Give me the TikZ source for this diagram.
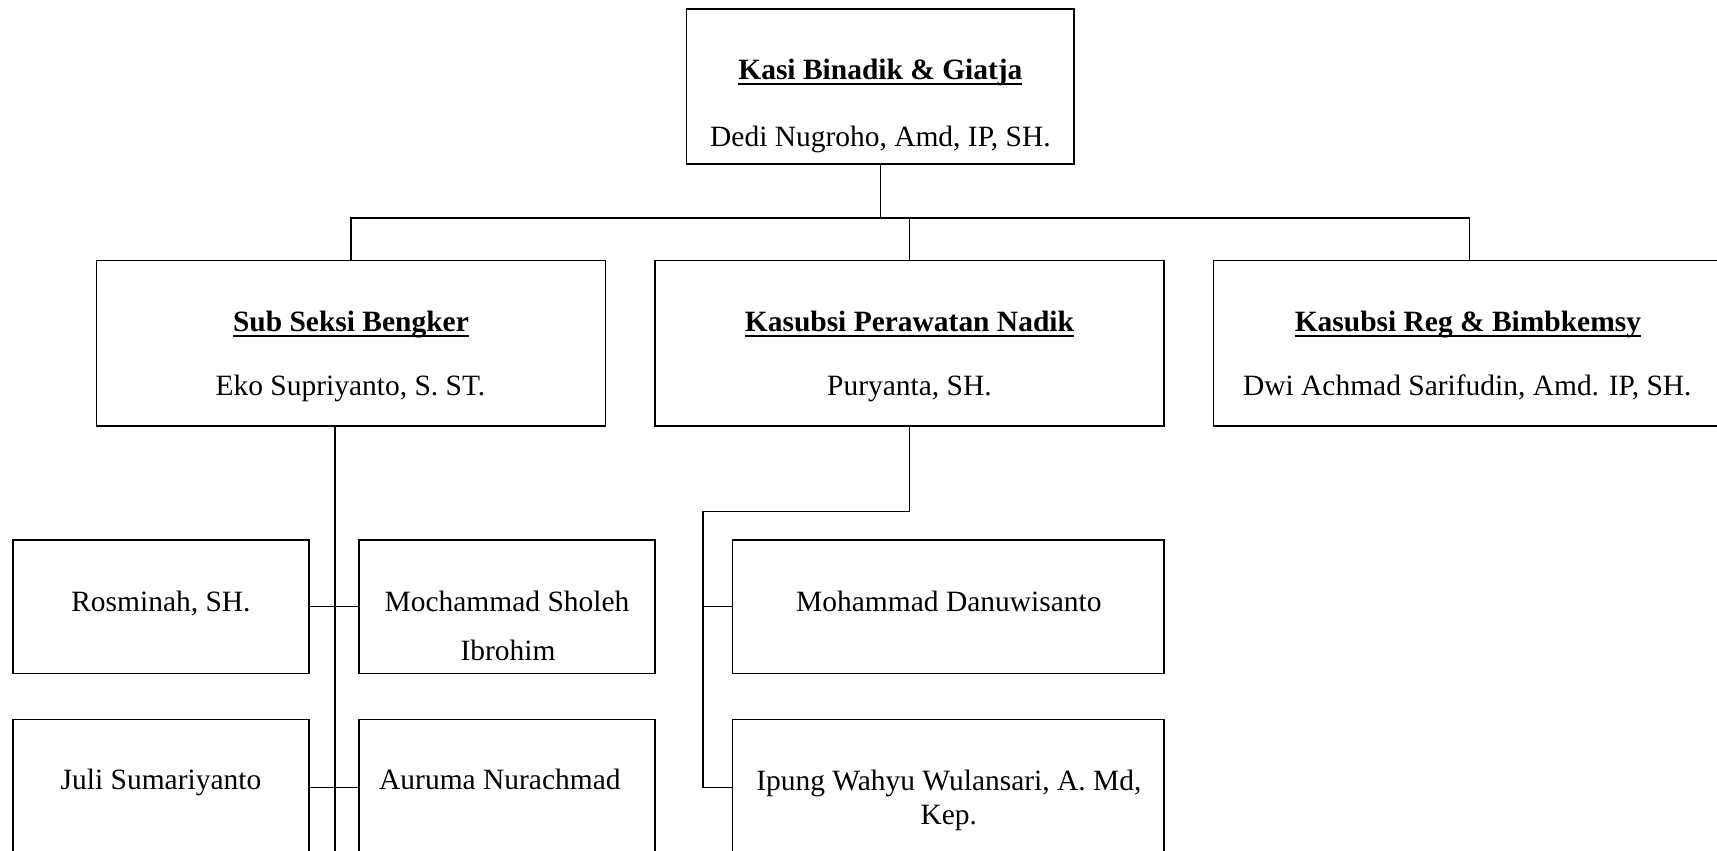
\documentclass[tikz,border=0pt]{standalone}
\usepackage{fontspec}
\setmainfont{Liberation Serif}
\newcommand\myul[1]{\setbox0\hbox{#1}\rlap{\rule[-2.6pt]{\wd0}{0.9pt}}\box0}
\begin{document}
\begin{tikzpicture}[x=0.55pt,y=-0.55pt,
  box/.style={draw, line width=0.8pt, rectangle, inner sep=0pt},
  sz/.style 2 args={minimum width={#1*0.55pt}, minimum height={#2*0.55pt}},
  lbl/.style={inner sep=0pt, anchor=base, font=\fontsize{14.8}{17}\selectfont},
  conn/.style={line width=0.75pt}]
\useasboundingbox (0,0) rectangle (1568,777);
\clip (0,0) rectangle (1568,777);
% boxes
\node[box, sz={354}{142}] (top) at (804,79) {};
\node[box, sz={465}{151}] (beng) at (320.5,313.5) {};
\node[box, sz={465}{151}] (pera) at (830.5,313.5) {};
\node[box, sz={468}{151}] (reg) at (1342,313.5) {};
\node[box, sz={270}{122}] (ros) at (147,554) {};
\node[box, sz={270}{122}] (sho) at (463,554) {};
\node[box, sz={270}{123}] (juli) at (147,718.5) {};
\node[box, sz={270}{123}] (aur) at (463,718.5) {};
\node[box, sz={394}{122}] (danu) at (866,554) {};
\node[box, sz={394}{123}] (ipu) at (866,718.5) {};
% texts
\node[lbl] (top-h) at (804,73) {\myul{\textbf{Kasi Binadik \& Giatja}}};
\node[lbl] (top-n) at (804,134) {Dedi Nugroho, Amd, IP, SH.};
\node[lbl] (beng-h) at (320.5,303) {\myul{\textbf{Sub Seksi Bengker}}};
\node[lbl] (beng-n) at (320,361.5) {Eko Supriyanto, S. ST.};
\node[lbl] (pera-h) at (830.5,303) {\myul{\textbf{Kasubsi Perawatan Nadik}}};
\node[lbl] (pera-n) at (830.5,361.5) {Puryanta, SH.};
\node[lbl] (reg-h) at (1340.5,303) {\myul{\textbf{Kasubsi Reg \& Bimbkemsy}}};
\node[lbl] (reg-n) at (1340,361.5) {Dwi Achmad Sarifudin, Amd. IP, SH.};
\node[lbl] (ros-t) at (147,558) {Rosminah, SH.};
\node[lbl] (sho-t1) at (463,558) {Mochammad Sholeh};
\node[lbl] (sho-t2) at (464,603) {Ibrohim};
\node[lbl] (juli-t) at (147,721) {Juli Sumariyanto};
\node[lbl] (aur-t) at (456.5,721) {Auruma Nurachmad};
\node[lbl] (danu-t) at (866.5,558) {Mohammad Danuwisanto};
\node[lbl] (ipu-t1) at (866.5,722) {Ipung Wahyu Wulansari, A. Md,};
\node[lbl] (ipu-t2) at (866.5,753) {Kep.};
% connectors
\coordinate (bar) at (0,199);
\coordinate (spineL) at (306,790);
\coordinate (elbow) at (642,467);
\draw[conn] (top.south) -- (top.south |- bar);
\draw[conn] (beng.north) -- (beng.north |- bar) -- (reg.north |- bar) -- (reg.north);
\draw[conn] (pera.north) -- (pera.north |- bar);
\draw[conn] (spineL |- beng.south) -- (spineL);
\draw[conn] (ros.east) -- (sho.west);
\draw[conn] (juli.east |- 0,719) -- (aur.west |- 0,719);
\draw[conn] (pera.south) -- (pera.south |- elbow) -- (elbow) -- (elbow |- 0,719) -- (ipu.west |- 0,719);
\draw[conn] (elbow |- danu.west) -- (danu.west);
\end{tikzpicture}
\end{document}
